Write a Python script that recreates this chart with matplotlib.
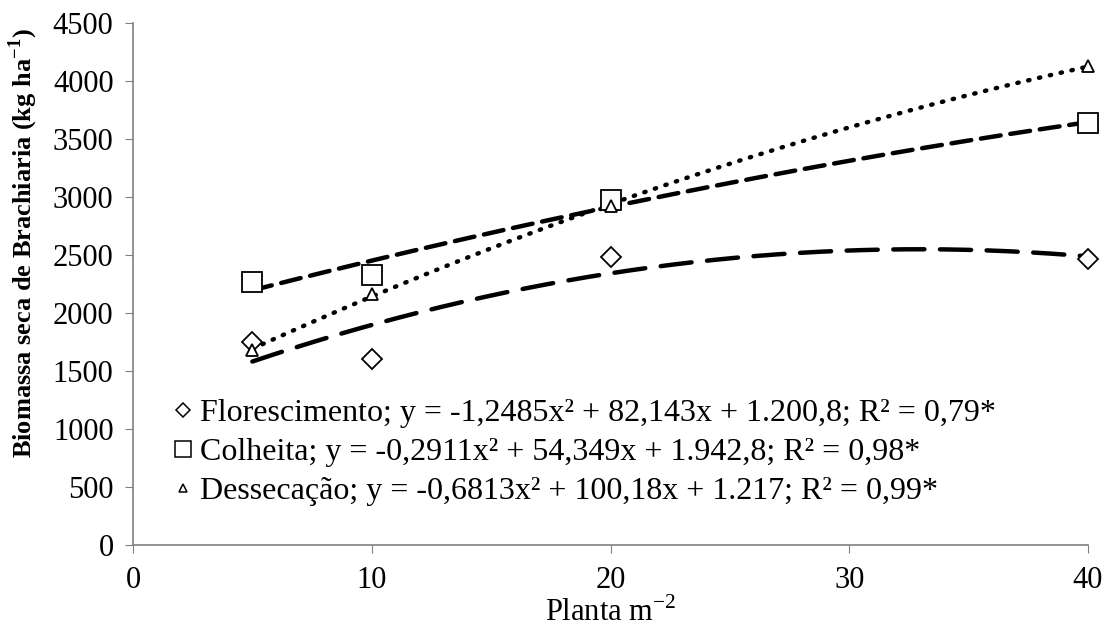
import numpy as np
import matplotlib.pyplot as plt
from matplotlib.lines import Line2D

plt.rcParams['font.family'] = ['Liberation Serif', 'DejaVu Serif']
plt.rcParams['mathtext.fontset'] = 'custom'
plt.rcParams['mathtext.rm'] = 'Liberation Serif'
plt.rcParams['mathtext.bf'] = 'Liberation Serif:bold'

# dados
plantas = [5, 10, 20, 40]
florescimento = [1750, 1610, 2490, 2470]
colheita = [2270, 2330, 2980, 3640]
dessecacao = [1680, 2170, 2930, 4130]

rotulos = [
    "Florescimento; y = -1,2485x² + 82,143x + 1.200,8; R² = 0,79*",
    "Colheita; y = -0,2911x² + 54,349x + 1.942,8; R² = 0,98*",
    "Dessecação; y = -0,6813x² + 100,18x + 1.217; R² = 0,99*",
]

fig = plt.figure(figsize=(11.08, 6.34), dpi=100)
ax = fig.add_axes([0.12, 0.14, 0.862, 0.823])

marcadores = ['D', 's', '^']
tamanhos = [10, 15, 8]
estilos = [(0, (7, 3.5)), (0, (4.5, 2.2)), (0, (0.3, 2.2))]
series = [florescimento, colheita, dessecacao]

xs = np.linspace(5, 40, 200)
for ys, m, ms, ls in zip(series, marcadores, tamanhos, estilos):
    # linha de tendência polinomial (2a ordem)
    coef = np.polyfit(plantas, ys, 2)
    ax.plot(xs, np.polyval(coef, xs), color='black', lw=3.2, ls=ls,
            dash_capstyle='round', solid_capstyle='round', zorder=2)
    ax.plot(plantas, ys, ls='none', marker=m, ms=ms, mfc='white',
            mec='black', mew=1.3, zorder=3, clip_on=False)

# legenda só com marcadores
handles = [Line2D([], [], ls='none', marker=m, ms=s * 0.75, mfc='white',
                  mec='black', mew=1.1) for m, s in zip(marcadores, tamanhos)]
ax.legend(handles, rotulos, loc='lower left', bbox_to_anchor=(0.03, 0.05),
          frameon=False, fontsize=23, handlelength=0.55, handletextpad=0.25,
          labelspacing=0.31, borderaxespad=0)

ax.set_xlim(0, 40)
ax.set_ylim(0, 4500)
ax.set_xticks(range(0, 41, 10))
ax.set_yticks(range(0, 4501, 500))
ax.tick_params(direction='out', length=6, color='#808080', labelsize=22)
ax.tick_params(axis='y', pad=8)
ax.tick_params(axis='x', pad=9)
for s in ['top', 'right']:
    ax.spines[s].set_visible(False)
for s in ['left', 'bottom']:
    ax.spines[s].set_color('#808080')
    ax.spines[s].set_linewidth(1.2)

ax.set_xlabel('Planta m$^{-2}$', fontsize=22, labelpad=2)
ax.set_ylabel('Biomassa seca de Brachiaria (kg ha$^{\\mathbf{-1}}$)',
              fontsize=19, fontweight='bold')
ax.yaxis.set_label_coords(-0.097, 0.578)

fig.savefig('out.png', dpi=100)
